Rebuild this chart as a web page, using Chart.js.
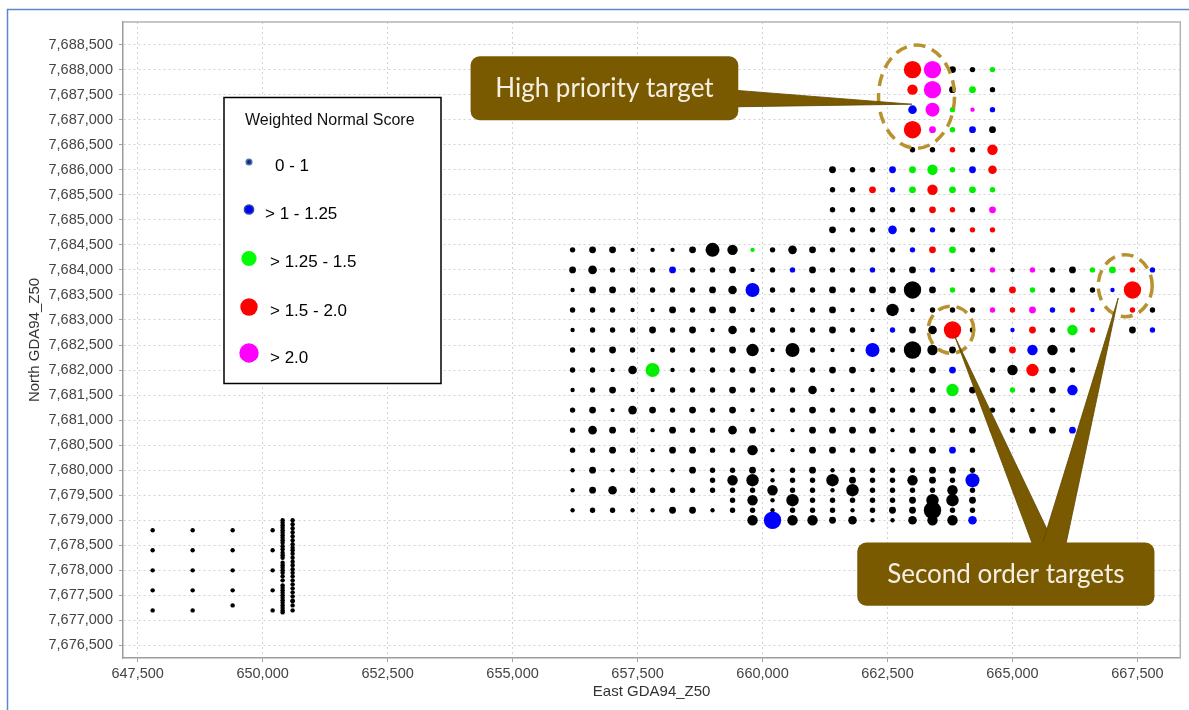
<!DOCTYPE html>
<html>
<head>
<meta charset="utf-8">
<title>Weighted Normal Score – sample grid</title>
<script src="https://cdn.jsdelivr.net/npm/chart.js@4.4.1/dist/chart.umd.min.js"></script>
<style>
  html, body { margin: 0; padding: 0; background: #ffffff; }
  #wrap { position: relative; width: 1189px; height: 710px; }
</style>
</head>
<body>
<div id="wrap"><canvas id="chart" width="1189" height="710"></canvas></div>
<script>
// ---- Axis ticks -------------------------------------------------------
const xTickValues = [647500, 650000, 652500, 655000, 657500, 660000, 662500, 665000, 667500];
const yTickValues = [7676500, 7677000, 7677500, 7678000, 7678500, 7679000, 7679500, 7680000,
  7680500, 7681000, 7681500, 7682000, 7682500, 7683000, 7683500, 7684000, 7684500, 7685000,
  7685500, 7686000, 7686500, 7687000, 7687500, 7688000, 7688500];
const xRange = [647207, 668357];
const yRange = [7676249, 7688951];

// ---- Score classes (colour) -------------------------------------------
const scoreClasses = ['k', 'b', 'g', 'r', 'm'];
const scoreLabels = ['0 - 1', '> 1 - 1.25', '> 1.25 - 1.5', '> 1.5 - 2.0', '> 2.0'];

// ---- Main sample grid: eastings of the grid columns ---------------------
const gridEastings = [656200, 656600, 657000, 657400, 657800, 658200, 658600, 659000, 659400,
  659800, 660200, 660600, 661000, 661400, 661800, 662200, 662600, 663000, 663400, 663800,
  664200, 664600, 665000, 665400, 665800, 666200, 666600, 667000, 667400, 667800];

// Each row: northing, first grid column, then one token per sample
// token = score class letter + magnitude class (1..8), "-" = no sample
const rowNorthings = [7688000, 7687600, 7687200, 7686800, 7686400, 7686000, 7685600, 7685200,
  7684800, 7684400, 7684000, 7683600, 7683200, 7682800, 7682400, 7682000, 7681600, 7681200,
  7680800, 7680400, 7680000, 7679800, 7679600, 7679400, 7679200, 7679000];
const rowStart = [17, 17, 17, 17, 17, 13, 13, 13, 13, 0, 0, 0, 0, 0, 0, 0, 0, 0, 0, 0, 0, 7, 0, 8, 0, 9];
const rowCodes = [
  'r8 m8 k3 k2 g2',
  'r5 m8 k3 g3 k2',
  'b4 m7 g2 m1 b2',
  'r8 m3 g2 b3 k3',
  'k2 k2 r2 k2 r5',
  'k3 k2 k2 b3 g3 g5 g2 b3 r4',
  'k2 k2 r3 b2 g3 r5 g3 g3 g2',
  'k2 k2 k2 k2 k2 r3 r2 k2 m3',
  'k3 k2 k2 b4 k2 b2 k2 r2 r2',
  'k2 k3 k3 k1 k1 k1 k3 k7 k5 g1 k2 k4 k3 k2 k2 k2 k2 b2 r3 g3 k2 k2',
  'k3 k4 k2 k2 k2 b3 k2 k2 k3 k1 k2 b2 k3 k2 k2 b2 k2 k3 b2 k1 k1 m2 k1 m2 k2 k3 g2 g3 r2 b2',
  'k1 k3 k3 k2 k2 k2 k2 k3 k4 b7 k2 k2 k2 k3 k2 k3 k3 k8 k3 g2 k2 k2 r3 g2 k2 k2 k2 b1 r8',
  'k2 k2 k2 k1 k1 k3 k2 k3 k3 k1 k2 k1 k2 k3 k1 k1 k6 k1 k2 k2 k2 m2 r2 m3 b2 r2 b1 - r2 k2',
  'k1 k2 k2 k2 k3 k2 k3 k1 k4 k2 k2 k2 k2 k3 k2 k1 b2 k3 k4 r8 k2 k2 b1 r3 k2 g5 r2 - k3 b2',
  'k2 k2 k3 k2 k1 k2 k2 k2 k3 k6 k1 k7 k2 k1 k1 b7 k2 k8 k5 k3 - k3 r3 b5 k5 k2',
  'k2 k2 k1 k4 g7 k1 k2 k2 k2 k3 k1 k2 k2 k3 k3 k1 k2 k2 k3 b3 - k2 k5 r6 k3 k2',
  'k1 k2 k3 k1 k1 k2 k2 k2 k3 k2 k2 k2 k4 k1 k1 k2 k1 k2 k2 g6 k3 k2 g2 k2 k3 b5',
  'k2 k3 k1 k4 k3 k2 k3 k2 k3 k1 k1 k2 k3 k2 k2 k3 k2 k2 k3 k2 k2 k2 k2 k1 k2',
  'k2 k4 k3 k2 k1 k3 k2 k2 k4 k3 k1 k1 k3 k3 k3 k3 k1 k2 k2 k2 k3 k2 k2 k3 k3 b3',
  'k2 k2 k3 k2 k1 k3 k3 k2 k2 k5 k1 k1 k3 k3 k2 k3 k1 k3 k3 b3 k2',
  'k1 k3 k1 k2 k1 k1 k3 k2 k2 k3 k1 k2 k3 k1 k2 k2 k2 k2 k3 k3 k2',
  'k2 k5 k6 k1 k2 k2 k6 k3 k2 k2 k5 k3 k2 b7',
  'k1 k3 k4 k2 k2 k2 k2 k2 k2 k2 k5 k2 k2 k1 k6 k2 k2 k2 k2 k5 k2',
  'k2 k5 k1 k6 k2 k2 k2 k2 k2 k3 k6 k6 k3',
  'k1 k2 k2 k1 k1 k3 k3 k1 k2 k2 k1 k2 k2 k2 k1 k2 k3 k3 k8 k2 k2',
  'k5 b8 k5 k5 k3 k4 k1 k1 k4 k5 k5 b4'
];

// ---- Western traverse lines (all in the 0 - 1 class) --------------------
const westEastings = [647800, 648600, 649400, 650200];
const westNorthings = [
  [7678800, 7678400, 7678000, 7677600, 7677200],
  [7678800, 7678400, 7678000, 7677600, 7677200],
  [7678800, 7678400, 7678000, 7677600, 7677300],
  [7678800, 7678400, 7678000, 7677600, 7677200]
];
const line650400 = [7679000, 7678950, 7678900, 7678850, 7678800, 7678750, 7678700, 7678650,
  7678600, 7678550, 7678480, 7678420, 7678350, 7678300, 7678250, 7678150, 7678100, 7678050,
  7678000, 7677950, 7677880, 7677800, 7677700, 7677650, 7677600, 7677550, 7677500, 7677450,
  7677400, 7677350, 7677300, 7677250, 7677200, 7677160];
const line650600 = [7679000, 7678920, 7678840, 7678760, 7678680, 7678600, 7678520, 7678450,
  7678400, 7678330, 7678250, 7678170, 7678100, 7678020, 7677950, 7677880, 7677800, 7677720,
  7677640, 7677560, 7677480, 7677400, 7677380, 7677300, 7677200];

// ---- Annotated targets (map units) --------------------------------------
const targetRings = [            // centre E, centre N, half-width, half-height
  [663080, 7687460, 760, 1030],
  [663770, 7682805, 455, 470],
  [667255, 7683685, 540, 620]
];
const calloutText = ['High priority target', 'Second order targets'];
const calloutBoxes = [           // E0, N0, E1, N1
  [654160, 7688265, 659515, 7686990],
  [661895, 7678555, 667840, 7677295]
];
const calloutPointers = [        // tip E, tip N, base E0, base E1 / N0, N1
  [[662987, 7687309], [659300, 7687600], [659300, 7687255]],
  [[663843, 7682680], [665419, 7678470], [665858, 7678470]],
  [[667115, 7683438], [665579, 7678470], [666058, 7678470]]
];

// ---- Styling ------------------------------------------------------------
const classColour = { k: '#000000', b: '#0000ff', g: '#00ee00', r: '#ff0000', m: '#ff00ff' };
const magnitudeRadius = [0, 2.2, 2.7, 3.4, 4.3, 5.2, 6.2, 7.0, 8.7];
const axisFont = 'Liberation Sans, Arial, sans-serif';
const calloutFill = '#7a5a00';
const ringColour = '#b8922e';

// Build point lists per score class
const points = { k: [], b: [], g: [], r: [], m: [] };
rowNorthings.forEach((n, i) => {
  rowCodes[i].split(' ').forEach((tok, j) => {
    if (tok === '-') return;
    points[tok[0]].push({ x: gridEastings[rowStart[i] + j], y: n, mag: Number(tok[1]) });
  });
});
westEastings.forEach((e, i) => westNorthings[i].forEach(n => points.k.push({ x: e, y: n, mag: 1 })));
line650400.forEach(n => points.k.push({ x: 650400, y: n, mag: 1 }));
line650600.forEach(n => points.k.push({ x: 650600, y: n, mag: 1 }));

// coloured classes first so they sit on top of the black samples
const datasets = ['m', 'r', 'g', 'b', 'k'].map(c => ({
  label: scoreLabels[scoreClasses.indexOf(c)],
  data: points[c],
  backgroundColor: classColour[c],
  borderWidth: 0,
  pointRadius: ctx => magnitudeRadius[ctx.raw ? ctx.raw.mag : 1],
  pointHoverRadius: ctx => magnitudeRadius[ctx.raw ? ctx.raw.mag : 1]
}));

const fmt = v => Number(v).toLocaleString('en-US');

const overlay = {
  id: 'overlay',
  beforeDraw(chart) {
    const c = chart.ctx;
    c.save();
    c.strokeStyle = '#5b87d2';
    c.lineWidth = 1.5;
    c.beginPath();
    c.moveTo(7.5, chart.height);
    c.lineTo(7.5, 9.5);
    c.lineTo(chart.width, 9.5);
    c.stroke();
    c.restore();
  },
  beforeDatasetsDraw(chart) {
    const { left, top, right, bottom } = chart.chartArea;
    const c = chart.ctx;
    c.save();
    c.strokeStyle = '#b4b4b4';
    c.lineWidth = 1.5;
    c.beginPath();
    c.moveTo(left, top);
    c.lineTo(right, top);
    c.lineTo(right, bottom);
    c.stroke();
    c.restore();
  },
  afterDatasetsDraw(chart) {
    const c = chart.ctx;
    const sx = chart.scales.x, sy = chart.scales.y;
    const px = e => sx.getPixelForValue(e);
    const py = n => sy.getPixelForValue(n);

    // dashed rings round the targets
    c.save();
    c.strokeStyle = ringColour;
    c.lineWidth = 3.5;
    c.setLineDash([12, 7]);
    targetRings.forEach(([e, n, re, rn]) => {
      const cx = px(e), cy = py(n);
      c.beginPath();
      c.ellipse(cx, cy, Math.abs(px(e + re) - cx), Math.abs(py(n + rn) - cy), 0, 0, Math.PI * 2);
      c.stroke();
    });
    c.restore();

    // pointers
    c.save();
    c.fillStyle = calloutFill;
    c.strokeStyle = '#5f4600';
    c.lineWidth = 0.8;
    calloutPointers.forEach(([tip, b0, b1]) => {
      c.beginPath();
      c.moveTo(px(tip[0]), py(tip[1]));
      c.lineTo(px(b0[0]), py(b0[1]));
      c.lineTo(px(b1[0]), py(b1[1]));
      c.closePath();
      c.fill();
      c.stroke();
    });
    c.restore();

    // callout boxes
    c.save();
    calloutBoxes.forEach(([e0, n0, e1, n1], i) => {
      const x0 = px(e0), y0 = py(n0), x1 = px(e1), y1 = py(n1);
      c.fillStyle = calloutFill;
      c.beginPath();
      c.roundRect(x0, y0, x1 - x0, y1 - y0, 9);
      c.fill();
      c.font = '26px Lato, "Open Sans", sans-serif';
      c.fillStyle = '#f4efe2';
      c.textAlign = 'center';
      c.textBaseline = 'alphabetic';
      c.fillText(calloutText[i], (x0 + x1) / 2, (y0 + y1) / 2 + 9);
    });
    c.restore();

    // legend
    const { left, top } = chart.chartArea;
    const lx = left + 101, ly = top + 75.5, lw = 217, lh = 286;
    c.save();
    c.fillStyle = '#ffffff';
    c.fillRect(lx, ly, lw, lh);
    c.strokeStyle = '#000000';
    c.lineWidth = 1.5;
    c.strokeRect(lx, ly, lw, lh);
    c.fillStyle = '#111111';
    c.font = '16px ' + axisFont;
    c.textAlign = 'left';
    c.textBaseline = 'alphabetic';
    c.fillText('Weighted Normal Score', lx + 21, ly + 27);
    const marks = [
      { dy: 64.5, r: 2.8, fill: '#1c2c66', stroke: '#4a6fc0', tx: 51, ty: 73.5 },
      { dy: 112, r: 4.6, fill: '#0000ff', stroke: '#2c4c9a', tx: 41, ty: 121 },
      { dy: 161, r: 7.6, fill: '#00ff00', stroke: null, tx: 46, ty: 169.5 },
      { dy: 209.5, r: 8.7, fill: '#ff0000', stroke: null, tx: 46, ty: 218.5 },
      { dy: 255.5, r: 9.7, fill: '#ff00ff', stroke: null, tx: 46, ty: 265.5 }
    ];
    c.font = '17px ' + axisFont;
    marks.forEach((m, i) => {
      c.beginPath();
      c.arc(lx + 25, ly + m.dy, m.r, 0, Math.PI * 2);
      c.fillStyle = m.fill;
      c.fill();
      if (m.stroke) { c.strokeStyle = m.stroke; c.lineWidth = 1.5; c.stroke(); }
      c.fillStyle = '#000000';
      c.fillText(scoreLabels[i], lx + m.tx, ly + m.ty);
    });
    c.restore();
  }
};

const axisTick = {
  color: '#444444',
  font: { family: axisFont, size: 14.5 },
  autoSkip: false,
  maxRotation: 0,
  callback: v => fmt(v)
};

new Chart(document.getElementById('chart'), {
  type: 'scatter',
  data: { datasets },
  plugins: [overlay],
  options: {
    responsive: false,
    animation: false,
    events: [],
    layout: { padding: { left: 0, right: 6, top: 22, bottom: 0 } },
    plugins: { legend: { display: false }, tooltip: { enabled: false } },
    scales: {
      x: {
        type: 'linear',
        min: xRange[0],
        max: xRange[1],
        afterBuildTicks: s => { s.ticks = xTickValues.map(v => ({ value: v })); },
        afterFit: s => { s.height = 52; },
        ticks: Object.assign({ padding: 3 }, axisTick),
        grid: { color: '#d2d2d2', lineWidth: 1, tickLength: 4, tickColor: '#a0a0a0' },
        border: { color: '#9c9c9c', width: 1.5, dash: [2, 3] },
        title: {
          display: true, text: 'East GDA94_Z50', color: '#333333',
          font: { family: axisFont, size: 15 }, padding: { top: 0, bottom: 9 }
        }
      },
      y: {
        type: 'linear',
        min: yRange[0],
        max: yRange[1],
        afterBuildTicks: s => { s.ticks = yTickValues.map(v => ({ value: v })); },
        afterFit: s => { s.width = 123; },
        ticks: Object.assign({ padding: 6 }, axisTick),
        grid: { color: '#d2d2d2', lineWidth: 1, tickLength: 4, tickColor: '#a0a0a0' },
        border: { color: '#9c9c9c', width: 1.5, dash: [2, 3] },
        title: {
          display: true, text: 'North GDA94_Z50', color: '#333333',
          font: { family: axisFont, size: 15 }, padding: { top: 26, bottom: 0 }
        }
      }
    }
  }
});
</script>
</body>
</html>
